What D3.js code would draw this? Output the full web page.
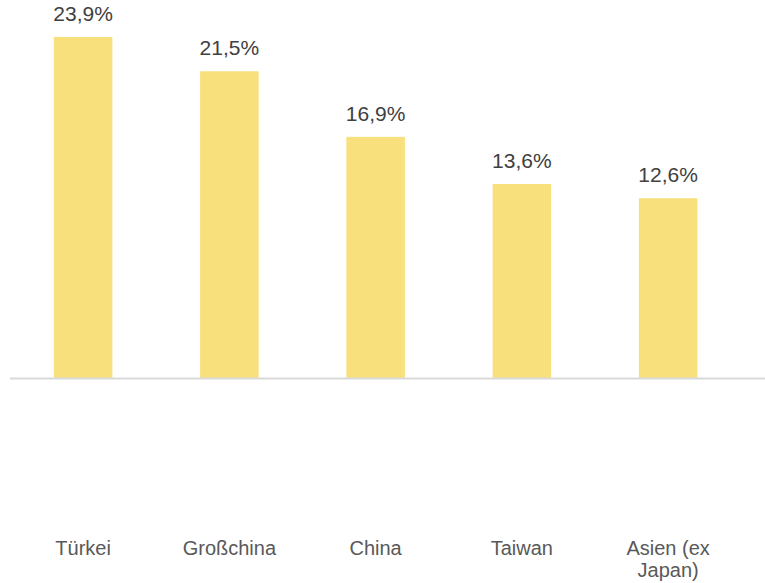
<!DOCTYPE html>
<html><head><meta charset="utf-8">
<script src="https://cdn.jsdelivr.net/npm/d3@7"></script>
<style>body{margin:0;background:#fff}svg{display:block}</style>
</head><body>
<script>
const categories = ["Türkei", "Großchina", "China", "Taiwan", "Asien (ex Japan)"];
const categoryLines = [["Türkei"], ["Großchina"], ["China"], ["Taiwan"], ["Asien (ex", "Japan)"]];
const values = [23.9, 21.5, 16.9, 13.6, 12.6];
const valueLabels = ["23,9%", "21,5%", "16,9%", "13,6%", "12,6%"];

const W = 765, H = 583;
const svg = d3.select("body").append("svg").attr("width", W).attr("height", H);
const baseY = 378;
const x = d3.scaleBand().domain(categories).range([10, 741.25]).paddingInner(0.6).paddingOuter(0.3);
const y = d3.scaleLinear().domain([0, 23.9]).range([baseY, 37]);

svg.selectAll("rect.bar").data(values).join("rect")
  .attr("x", (d, i) => x(categories[i]))
  .attr("width", x.bandwidth())
  .attr("y", d => y(d))
  .attr("height", d => baseY - y(d))
  .attr("fill", "#F8E07C");

svg.append("line").attr("x1", 10).attr("x2", 765).attr("y1", baseY + 0.5).attr("y2", baseY + 0.5)
  .attr("stroke", "#D9D9D9").attr("stroke-width", 2);

svg.selectAll("text.val").data(values).join("text")
  .attr("x", (d, i) => x(categories[i]) + x.bandwidth() / 2)
  .attr("y", d => y(d) - 16)
  .attr("text-anchor", "middle")
  .attr("font-family", "'Liberation Sans', Arial, sans-serif")
  .attr("font-size", 21).attr("fill", "#404040")
  .text((d, i) => valueLabels[i]);

const cat = svg.selectAll("text.cat").data(categories).join("text")
  .attr("text-anchor", "middle")
  .attr("font-family", "'Liberation Sans', Arial, sans-serif")
  .attr("font-size", 20).attr("fill", "#595959");
cat.each(function(d, i) {
  const cx = x(d) + x.bandwidth() / 2;
  d3.select(this).selectAll("tspan").data(categoryLines[i]).join("tspan")
    .attr("x", cx).attr("y", (t, j) => 555 + j * 22).text(t => t);
});
</script>
</body></html>
